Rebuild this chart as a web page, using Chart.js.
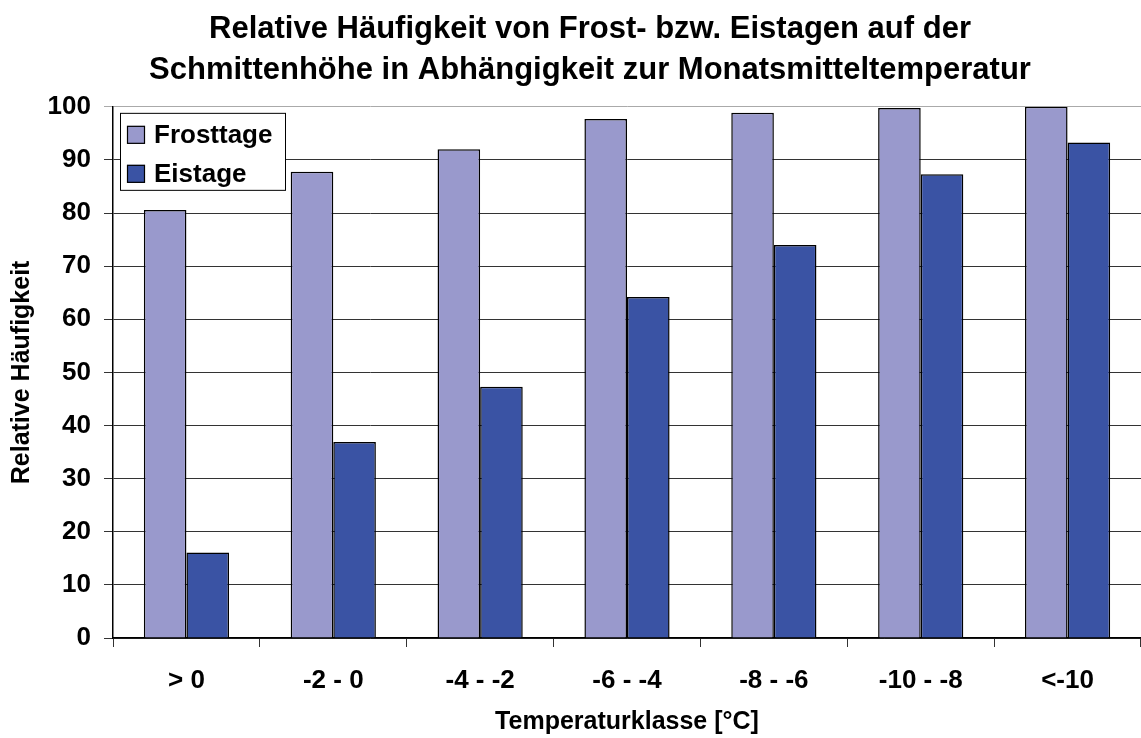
<html>
<head>
<meta charset="utf-8">
<script src="https://cdn.jsdelivr.net/npm/chart.js"></script>
<style>
    html, body { margin: 0; padding: 0; background: #fff; }
    #wrap { width: 1141px; height: 738px; }
</style>
</head>
<body>
<div id="wrap"><canvas id="chart"></canvas></div>
<script>
    // values
    const categories = ['> 0', '-2 - 0', '-4 - -2', '-6 - -4', '-8 - -6', '-10 - -8', '<-10'];
    const frosttage = [80.6, 87.8, 92.0, 97.7, 98.9, 99.8, 100.0];
    const eistage = [16.1, 36.9, 47.3, 64.2, 74.0, 87.3, 93.3];
    const seriesNames = ['Frosttage', 'Eistage'];
    const seriesColors = ['#9999CC', '#3A53A4'];
    const titleLines = ['Relative Häufigkeit von Frost- bzw. Eistagen auf der',
                        'Schmittenhöhe in Abhängigkeit zur Monatsmitteltemperatur'];

    const fontFamily = "Arial, 'Liberation Sans', Helvetica, sans-serif";

    // legend box sits inside the plot area, top left, like the original
    const boxLegend = {
        id: 'boxLegend',
        afterLayout(chart) {
            // original title is centred a little right of the canvas middle
            if (chart.titleBlock) chart.titleBlock.left += 39;
        },
        afterDraw(chart) {
            const ctx = chart.ctx;
            const area = chart.chartArea;
            const x = area.left + 7, y = area.top + 6, w = 165, h = 77;
            ctx.save();
            ctx.fillStyle = '#fff';
            ctx.fillRect(x, y, w, h);
            ctx.strokeStyle = '#000';
            ctx.lineWidth = 1;
            ctx.strokeRect(x + 0.5, y + 0.5, w, h);
            ctx.font = 'bold 26px ' + fontFamily;
            ctx.textBaseline = 'middle';
            chart.data.datasets.forEach((ds, i) => {
                const cy = y + 22 + i * 39;
                ctx.fillStyle = ds.backgroundColor;
                ctx.fillRect(x + 7, cy - 9, 18, 18);
                ctx.strokeStyle = '#000';
                ctx.lineWidth = 1.2;
                ctx.strokeRect(x + 7.5, cy - 8.5, 17, 17);
                ctx.fillStyle = '#000';
                ctx.fillText(ds.label, x + 34, cy + 1);
            });
            ctx.restore();
        }
    };

    const config = {
        type: 'bar',
        data: {
            labels: categories,
            datasets: [{
                label: seriesNames[0],
                data: frosttage,
                backgroundColor: seriesColors[0],
                borderColor: '#000',
                borderWidth: 1.5
            }, {
                label: seriesNames[1],
                data: eistage,
                backgroundColor: seriesColors[1],
                borderColor: '#000',
                borderWidth: 1.5
            }]
        },
        options: {
            responsive: true,
            maintainAspectRatio: false,
            animation: false,
            datasets: {
                bar: { categoryPercentage: 0.58, barPercentage: 1.0 }
            },
            layout: { padding: 0 },
            plugins: {
                legend: { display: false },
                tooltip: { enabled: false },
                title: {
                    display: true,
                    text: titleLines,
                    color: '#000',
                    font: { family: fontFamily, size: 31, weight: 'bold', lineHeight: 1.32 },
                    padding: { top: 9, bottom: 16 }
                }
            },
            scales: {
                x: {
                    afterFit(scale) { scale.height = 100; },
                    grid: {
                        offset: true,
                        drawOnChartArea: false,
                        drawTicks: true,
                        tickLength: 9,
                        color: '#333'
                    },
                    border: { color: '#000', width: 1.5 },
                    ticks: {
                        color: '#000',
                        padding: 18,
                        maxRotation: 0,
                        font: { family: fontFamily, size: 26, weight: 'bold' }
                    },
                    title: {
                        display: true,
                        text: 'Temperaturklasse [°C]',
                        color: '#000',
                        font: { family: fontFamily, size: 25, weight: 'bold' },
                        padding: { bottom: 1 }
                    }
                },
                y: {
                    min: 0,
                    max: 100,
                    afterFit(scale) { scale.width = 113; },
                    grid: {
                        color: (c) => (c.tick && c.tick.value === 100) ? '#aaa' : '#333',
                        lineWidth: 1,
                        tickLength: 9
                    },
                    border: { color: '#000', width: 1.5 },
                    ticks: {
                        stepSize: 10,
                        color: '#000',
                        padding: 13,
                        font: { family: fontFamily, size: 26, weight: 'bold' }
                    },
                    title: {
                        display: true,
                        text: 'Relative Häufigkeit',
                        color: '#000',
                        font: { family: fontFamily, size: 25, weight: 'bold' },
                        padding: { top: 7 }
                    }
                }
            }
        },
        plugins: [boxLegend]
    };

    new Chart(document.getElementById('chart'), config);
</script>
</body>
</html>
